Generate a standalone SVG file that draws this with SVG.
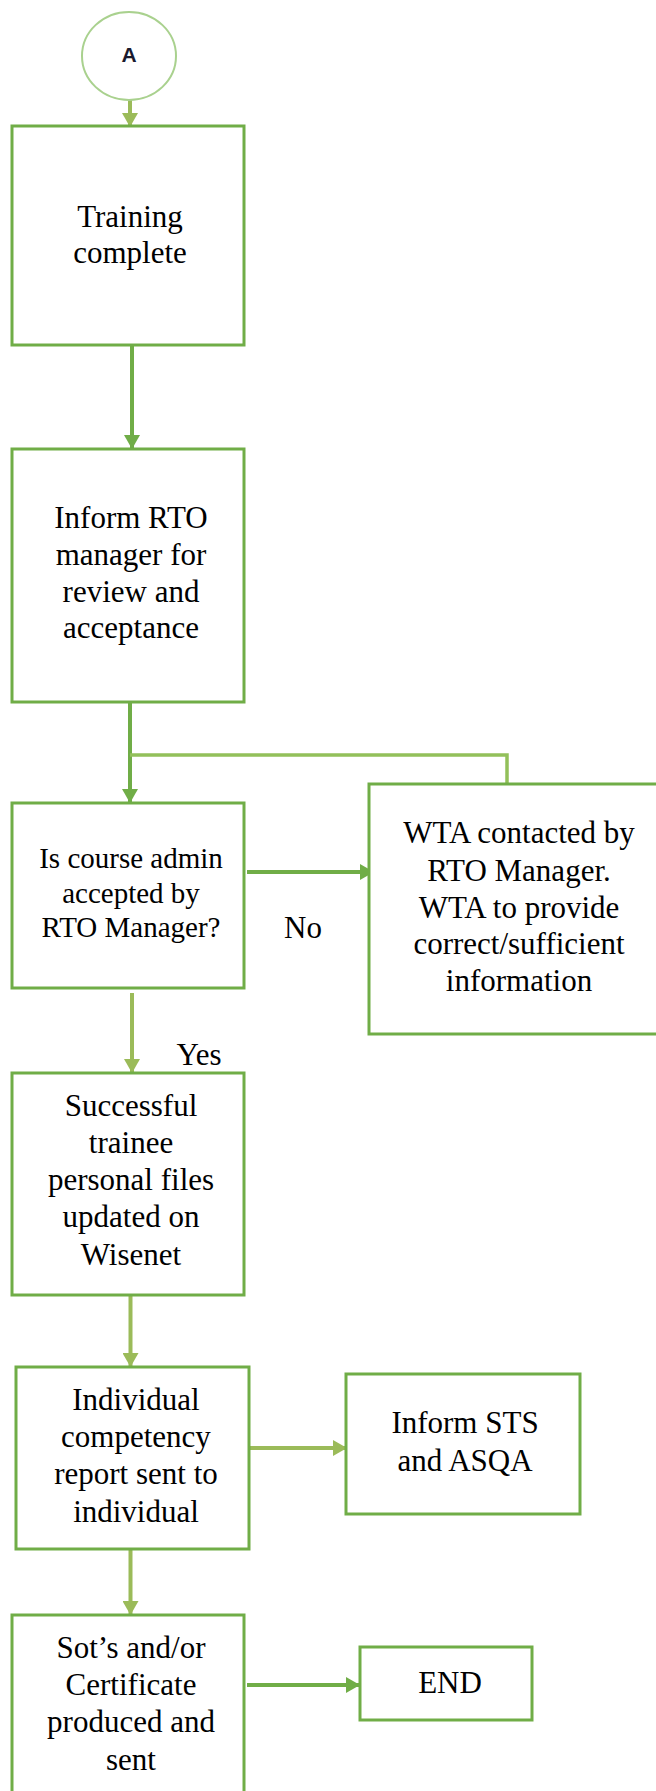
<svg xmlns="http://www.w3.org/2000/svg" width="656" height="1791" viewBox="0 0 656 1791">
  <defs>
    <style>
      .box { fill: #ffffff; stroke: #70AD47; stroke-width: 3; }
      .t { font-family: "Liberation Serif", "Times New Roman", serif; font-size: 31px; fill: #000; text-anchor: middle; }
      .t29 { font-size: 29px; }
      .dark { stroke: #70AD47; stroke-width: 4; fill: none; }
      .light { stroke: #9BBB59; stroke-width: 4; fill: none; }
      .loop { stroke: #92C05A; stroke-width: 3.5; fill: none; }
    </style>
    <marker id="arrDark" markerUnits="userSpaceOnUse" markerWidth="16" markerHeight="16" viewBox="0 0 14 16" refX="14" refY="8" orient="auto">
      <path d="M0,0 L14,8 L0,16 Z" fill="#70AD47"/>
    </marker>
    <marker id="arrLight" markerUnits="userSpaceOnUse" markerWidth="16" markerHeight="16" viewBox="0 0 14 16" refX="14" refY="8" orient="auto">
      <path d="M0,0 L14,8 L0,16 Z" fill="#9BBB59"/>
    </marker>
  </defs>

  <rect width="656" height="1791" fill="#ffffff"/>

  <!-- connectors -->
  <g id="connectors">
    <line class="light" x1="130" y1="100" x2="130" y2="127" marker-end="url(#arrLight)"/>
    <line class="dark" x1="132" y1="345" x2="132" y2="449" marker-end="url(#arrDark)"/>
    <line class="dark" x1="130" y1="702" x2="130" y2="803" marker-end="url(#arrDark)"/>
    <polyline class="loop" points="130,755 507,755 507,784"/>
    <line class="dark" x1="247" y1="872" x2="374" y2="872" marker-end="url(#arrDark)"/>
    <line class="light" x1="132" y1="993" x2="132" y2="1073" marker-end="url(#arrLight)"/>
    <line class="light" x1="130.5" y1="1295" x2="130.5" y2="1367" marker-end="url(#arrLight)"/>
    <line class="light" x1="249" y1="1448" x2="347" y2="1448" marker-end="url(#arrLight)"/>
    <line class="light" x1="130.5" y1="1549" x2="130.5" y2="1615" marker-end="url(#arrLight)"/>
    <line class="dark" x1="247" y1="1685" x2="360" y2="1685" marker-end="url(#arrDark)"/>
    <text class="t" x="303" y="938">No</text>
    <text class="t" x="199" y="1065">Yes</text>
  </g>

  <!-- start connector -->
  <g id="start">
    <ellipse cx="129" cy="56" rx="47" ry="44" fill="#ffffff" stroke="#A9D18E" stroke-width="2"/>
    <text x="129" y="62" font-family="Liberation Sans, Arial, sans-serif" font-size="21" font-weight="bold" text-anchor="middle" fill="#1a1a2e">A</text>
  </g>

  <g id="training-complete">
    <rect class="box" x="12" y="126" width="232" height="219"/>
    <text class="t" x="130" y="227">Training</text>
    <text class="t" x="130" y="263">complete</text>
  </g>

  <g id="inform-rto">
    <rect class="box" x="12" y="449" width="232" height="253"/>
    <text class="t" x="131" y="528">Inform RTO</text>
    <text class="t" x="131" y="565">manager for</text>
    <text class="t" x="131" y="602">review and</text>
    <text class="t" x="131" y="638">acceptance</text>
  </g>

  <g id="decision">
    <rect class="box" x="12" y="803" width="232" height="185"/>
    <text class="t t29" x="131" y="868">Is course admin</text>
    <text class="t t29" x="131" y="903">accepted by</text>
    <text class="t t29" x="131" y="937">RTO Manager?</text>
  </g>

  <g id="wta-contacted">
    <rect class="box" x="369" y="784" width="300" height="250"/>
    <text class="t" x="519" y="843">WTA contacted by</text>
    <text class="t" x="519" y="881">RTO Manager.</text>
    <text class="t" x="519" y="918">WTA to provide</text>
    <text class="t" x="519" y="954">correct/sufficient</text>
    <text class="t" x="519" y="991">information</text>
  </g>

  <g id="files-updated">
    <rect class="box" x="12" y="1073" width="232" height="222"/>
    <text class="t" x="131" y="1116">Successful</text>
    <text class="t" x="131" y="1153">trainee</text>
    <text class="t" x="131" y="1190">personal files</text>
    <text class="t" x="131" y="1227">updated on</text>
    <text class="t" x="131" y="1265">Wisenet</text>
  </g>

  <g id="competency-report">
    <rect class="box" x="16" y="1367" width="233" height="182"/>
    <text class="t" x="136" y="1410">Individual</text>
    <text class="t" x="136" y="1447">competency</text>
    <text class="t" x="136" y="1484">report sent to</text>
    <text class="t" x="136" y="1522">individual</text>
  </g>

  <g id="inform-sts">
    <rect class="box" x="346" y="1374" width="234" height="140"/>
    <text class="t" x="465" y="1433">Inform STS</text>
    <text class="t" x="465" y="1471">and ASQA</text>
  </g>

  <g id="certificate">
    <rect class="box" x="12" y="1615" width="232" height="200"/>
    <text class="t" x="131" y="1658">Sot’s and/or</text>
    <text class="t" x="131" y="1695">Certificate</text>
    <text class="t" x="131" y="1732">produced and</text>
    <text class="t" x="131" y="1770">sent</text>
  </g>

  <g id="end">
    <rect class="box" x="360" y="1647" width="172" height="73"/>
    <text class="t" x="450" y="1693">END</text>
  </g>
</svg>
